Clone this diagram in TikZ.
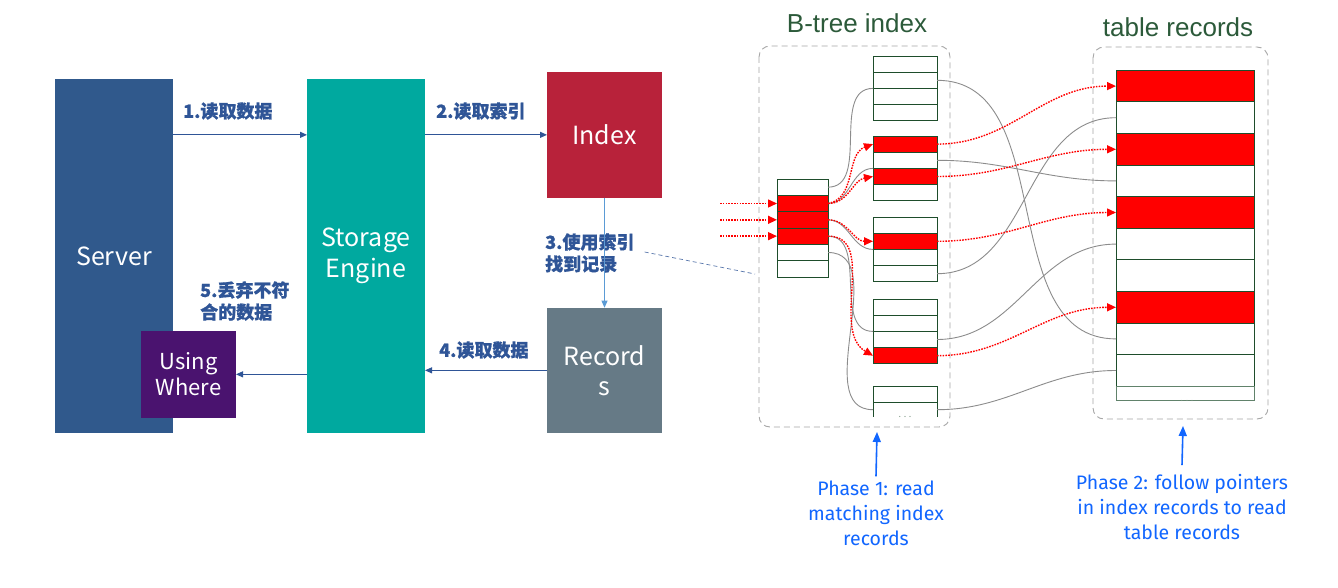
\documentclass[tikz,border=0pt]{standalone}
\usepackage{fontspec}
\setmainfont{Noto Sans CJK SC}
\newfontfamily\cjk{Noto Sans CJK SC}[BoldFeatures={FakeBold=0.9}]
\newfontfamily\arialf{Liberation Sans}
\newfontfamily\phasef{Fira Sans}
\usetikzlibrary{arrows.meta}
\definecolor{serverc}{HTML}{30598C}
\definecolor{storagec}{HTML}{00A99F}
\definecolor{indexc}{HTML}{B8223A}
\definecolor{recordc}{HTML}{667A86}
\definecolor{wherec}{HTML}{4A136F}
\definecolor{labc}{HTML}{2F5597}
\definecolor{lightarr}{HTML}{5B9BD5}
\definecolor{cellborder}{HTML}{1E4D2B}
\definecolor{titlec}{HTML}{2C5A3A}
\definecolor{phasec}{HTML}{1166FF}
\definecolor{pgray}{HTML}{8C8C8C}
\definecolor{rred}{HTML}{FF0000}
\begin{document}
\begin{tikzpicture}[x=1pt,y=-1pt,
  bigbox/.style={inner sep=0pt, outer sep=0pt, text=white, font=\fontsize{25}{30}\selectfont, align=center, anchor=north west},
  lab/.style={text=labc, font=\cjk\bfseries\fontsize{18}{22}\selectfont, align=left, inner sep=0pt, anchor=west},
  flow/.style={labc, line width=1pt, -{Triangle[length=7pt,width=6pt]}},
  cell/.style={draw=cellborder, line width=0.9pt, inner sep=0pt, outer sep=0pt, anchor=north west},
  rootcell/.style={cell, minimum width=51pt, minimum height=16.33pt},
  leafcell/.style={cell, minimum width=64pt, minimum height=16.2pt},
  tabcell/.style={cell, minimum width=138pt, minimum height=31.6pt},
  grp/.style={draw=black!35, dashed, dash pattern=on 6pt off 4pt, line width=0.9pt, rounded corners=11pt},
  ptr/.style={pgray, line width=0.9pt},
  redptr/.style={rred, line width=1.4pt, dash pattern=on 1.6pt off 1.2pt, -{Triangle[length=9pt,width=8pt]}},
  title/.style={text=titlec, font=\arialf\fontsize{26}{30}\selectfont, inner sep=0pt},
  phase/.style={text=phasec, font=\phasef\fontsize{19.5}{25}\selectfont, align=center, inner sep=0pt},
  phasearr/.style={phasec, line width=1.6pt, -{Triangle[length=10pt,width=8pt]}}
]
\useasboundingbox[fill=white] (0,0) rectangle (1338,588);

% ---------- left part ----------
\node[bigbox, fill=serverc, minimum width=118pt, minimum height=354pt] (server) at (55,79) {Server};
\node[bigbox, fill=storagec, minimum width=118pt, minimum height=354pt] (storage) at (307,79) {\raisebox{-10pt}{\shortstack{Storage\\[2pt]Engine}}};
\node[bigbox, fill=indexc, minimum width=115pt, minimum height=125.7pt] (index) at (547,72) {Index};
\node[bigbox, fill=recordc, minimum width=115pt, minimum height=125.3pt] (records) at (547,307.7) {Record\\s};
\node[bigbox, fill=wherec, minimum width=95pt, minimum height=86.7pt, font=\fontsize{22}{26}\selectfont] (where) at (141,331) {Using\\Where};

\node[lab] (lab1) at (183,111) {1.读取数据};
\node[lab] (lab2) at (436,111) {2.读取索引};
\node[lab] (lab3) at (545,253) {3.使用索引\\找到记录};
\node[lab] (lab4) at (439,350) {4.读取数据};
\node[lab] (lab5) at (200,301) {5.丢弃不符\\合的数据};

\draw[flow] (server.east |- index.west) -- (storage.west |- index.west);
\draw[flow] (storage.east |- index.west) -- (index.west);
\draw[lightarr, line width=0.8pt, -{Triangle[length=7pt,width=6pt]}] (index.south) -- (records.north);
\draw[flow] (records.west) -- (storage.east |- records.west);
\draw[flow] (storage.west |- where.east) -- (where.east);

\coordinate (dashend) at (755,274);
\draw[labc!80, line width=0.7pt, dash pattern=on 4pt off 3pt] ([xshift=10pt,yshift=1pt]lab3.east) -- (dashend);

% ---------- B-tree ----------
\node[title] (bt) at (857,23) {B-tree index};
\node[title] (tr) at (1178,27) {table records};
\draw[grp] (759,46) rectangle (950,427);
\draw[grp] (1093,47) rectangle (1268,419);

\foreach \i/\f in {1/white,2/rred,3/rred,4/rred,5/white,6/white}
  \node[rootcell, fill=\f] (root\i) at (777,{179+(\i-1)*16.33}) {};
\foreach \i/\f in {1/white,2/white,3/white,4/white}
  \node[leafcell, fill=\f] (A\i) at (873,{56+(\i-1)*16.2}) {};
\foreach \i/\f in {1/rred,2/white,3/rred,4/white}
  \node[leafcell, fill=\f] (B\i) at (873,{136+(\i-1)*16.2}) {};
\foreach \i/\f in {1/white,2/rred,3/white,4/white}
  \node[leafcell, fill=\f] (C\i) at (873,{217+(\i-1)*16.2}) {};
\foreach \i/\f in {1/white,2/white,3/white,4/rred}
  \node[leafcell, fill=\f] (D\i) at (873,{299+(\i-1)*16.2}) {};
\node[leafcell] (E1) at (873,386) {};
\node[leafcell, draw=none, minimum height=15pt] (E2) at (873,402.2) {};
\draw[cellborder, line width=0.9pt] (E2.north west) -- (E2.south west) (E2.north east) -- (E2.south east);
\node[text=cellborder!60, inner sep=0pt, font=\fontsize{9}{9}\selectfont] (edots) at (905,417) {. . .};

\foreach \i/\f in {0/rred,1/white,2/rred,3/white,4/rred,5/white,6/white,7/rred,8/white,9/white}
  \node[tabcell, fill=\f] (t\i) at (1116,{70.3+\i*31.6}) {};
\node[tabcell, minimum height=14.5pt, draw=cellborder!70] (t10) at (1116,386.3) {};
\node[text=cellborder!60, inner sep=0pt, font=\fontsize{9}{9}\selectfont] (tdots) at (1187,401) {. . .};

% gray pointers root -> leaves
\draw[ptr] (root1.east) to[out=0,in=180] (A3.north west);
\draw[ptr] (root2.east) to[out=0,in=180] (B3.north west);
\draw[ptr] (root3.east) to[out=0,in=180] (C3.north west);
\draw[ptr] (root4.east) to[out=0,in=180] (D3.north west);
\draw[ptr] (root5.east) to[out=0,in=180] (E2.west);
% gray pointers leaves -> table
\draw[ptr] (A2.east) to[out=0,in=180] (t8.west);
\draw[ptr] (B2.east) to[out=0,in=180] (t3.west);
\draw[ptr] (C4.east) to[out=0,in=180] (t1.west);
\draw[ptr] (D3.east) to[out=0,in=180] (t5.west);
\draw[ptr] (E2.east) to[out=0,in=180] (t9.west);

% red pointers
\coordinate (in1) at ([xshift=-57pt]root2.west);
\coordinate (in2) at ([xshift=-57pt]root3.west);
\coordinate (in3) at ([xshift=-57pt]root4.west);
\draw[redptr] (in1) -- (root2.west);
\draw[redptr] (in2) -- (root3.west);
\draw[redptr] (in3) -- (root4.west);
\draw[redptr] (root2.east) to[out=10,in=200] (B1.west);
\draw[redptr] (root2.east) to[out=0,in=190] (B3.west);
\draw[redptr] (root3.east) to[out=0,in=180] (C2.west);
\draw[redptr] (root4.east) to[out=0,in=150] (D4.west);
\draw[redptr] (B1.east) to[out=0,in=180] (t0.west);
\draw[redptr] (B3.east) to[out=0,in=180] (t2.west);
\draw[redptr] (C2.east) to[out=0,in=180] (t4.west);
\draw[redptr] (D4.east) to[out=0,in=180] (t7.west);

% phases
\node[phase] (ph1) at (876,513) {Phase 1: read\\matching index\\records};
\node[phase] (ph2) at (1182,507) {Phase 2: follow pointers\\in index records to read\\table records};
\coordinate (ph1tip) at (877,432);
\coordinate (ph2tip) at (1183,426);
\draw[phasearr] ([yshift=4pt]ph1.north) -- (ph1tip);
\draw[phasearr] ([yshift=9pt]ph2.north) -- (ph2tip);
\end{tikzpicture}
\end{document}
